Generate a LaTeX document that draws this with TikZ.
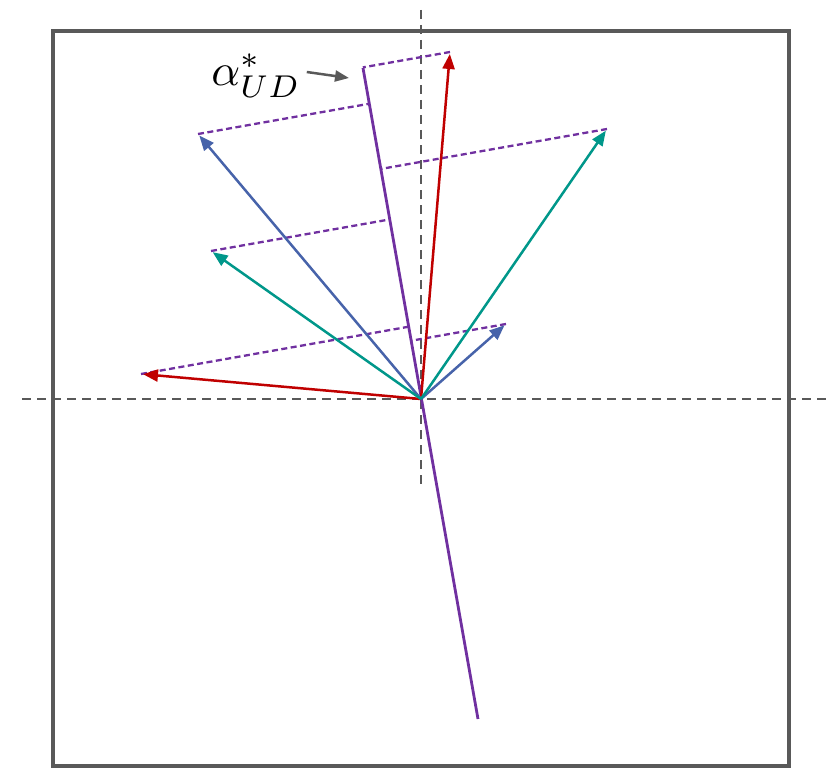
\documentclass[tikz,border=0pt]{standalone}
\usetikzlibrary{arrows.meta,calc}

\definecolor{frameGray}{HTML}{595959}
\definecolor{vecRed}{HTML}{C00000}
\definecolor{vecBlue}{HTML}{4763AA}
\definecolor{vecGreen}{HTML}{00978A}
\definecolor{dirPurple}{HTML}{7030A0}

\begin{document}
\begin{tikzpicture}[x=1pt, y=-1pt, >={Triangle[length=15pt, width=12pt]},
  vec/.style={->, line width=2.5pt, shorten >=2pt},
  proj/.style={dirPurple, line width=2.3pt, dash pattern=on 6pt off 3.5pt},
  axis/.style={frameGray, line width=2.3pt, dash pattern=on 9pt off 6pt}]
  \useasboundingbox (0,0) rectangle (831,768);

  % outer frame
  \draw[frameGray, line width=4.5pt] (53,31) rectangle (789,766);

  % axes through the origin
  \coordinate (O) at (421,399);
  \draw[axis] (22,399) -- (831,399);
  \draw[axis] (421,10) -- (421,485);

  % direction alpha_UD
  \coordinate (dtop) at (363,68);
  \coordinate (dbot) at (478,719);
  \draw[dirPurple, line width=2.8pt] (dtop) -- (dbot);

  % vector tips
  \coordinate (r1) at (450,52);
  \coordinate (r2) at (141,374);
  \coordinate (b1) at (198,134);
  \coordinate (b2) at (506,324);
  \coordinate (g1) at (607,129);
  \coordinate (g2) at (211,251);

  % projections onto the direction
  \foreach \t in {r1,r2,b1,b2,g1,g2}
    \draw[proj] (\t) -- ($(dtop)!(\t)!(dbot)$);

  % vectors
  \draw[vec, vecRed] (O) -- (r1);
  \draw[vec, vecRed] (O) -- (r2);
  \draw[vec, vecBlue] (O) -- (b1);
  \draw[vec, vecBlue] (O) -- (b2);
  \draw[vec, vecGreen] (O) -- (g1);
  \draw[vec, vecGreen] (O) -- (g2);

  % label
  \node[scale=4.5, inner sep=0.5pt] (lab) at (256,76) {$\alpha^*_{UD}$};
  \coordinate (labtip) at (349,78);
  \draw[->, frameGray, line width=2.5pt, >={Triangle[length=14pt, width=11pt]}]
    ([shift={(3pt,4pt)}]lab.east) -- (labtip);
\end{tikzpicture}
\end{document}
